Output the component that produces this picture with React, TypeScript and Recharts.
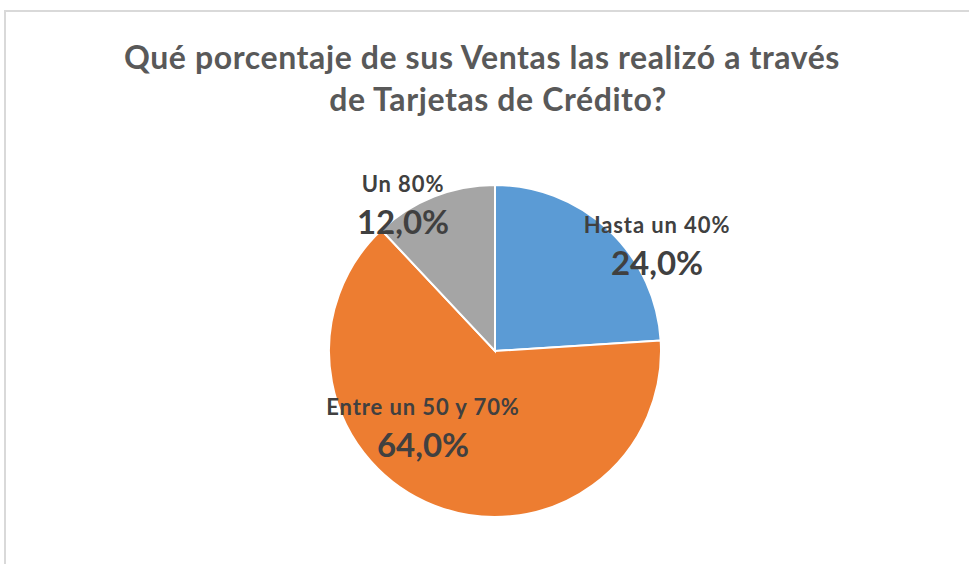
import React from 'react'
import { PieChart, Pie, Cell } from 'recharts'

const CATEGORIES = ['Hasta un 40%', 'Entre un 50 y 70%', 'Un 80%']
const VALUES = [24, 64, 12]
const COLORS = ['#5b9bd5', '#ed7d31', '#a5a5a5']

const TITLE_LINES = ['Qué porcentaje de sus Ventas las realizó a través', 'de Tarjetas de Crédito?']

const DATA = CATEGORIES.map((name, i) => ({ name, value: VALUES[i] }))

// label anchors relative to the pie centre (Excel "best fit" placement)
const LABEL_OFFSETS = [
    { dx: 162, dy: -118 },
    { dx: -72, dy: 64 },
    { dx: -92, dy: -159 },
]

const FONT = 'Lato, "Open Sans", sans-serif'

const renderLabel = (props: any) => {
    const { cx, cy, index, name, value } = props
    const off = LABEL_OFFSETS[index]
    const x = cx + off.dx
    const y = cy + off.dy
    return (
        <g>
            <text x={x} y={y} textAnchor="middle" fill="#404040" fontFamily={FONT} fontWeight={700} fontSize={22} letterSpacing={0.9}>
                {name}
            </text>
            <text x={x} y={y + 42} textAnchor="middle" fill="#404040" fontFamily={FONT} fontWeight={700} fontSize={33}>
                {value.toFixed(1).replace('.', ',')}%
            </text>
        </g>
    )
}

export default function App() {
    return (
        <div style={{ position: 'fixed', left: 0, top: 0, width: 969, height: 564, background: '#fff', overflow: 'hidden' }}>
            <div
                style={{
                    position: 'absolute',
                    left: 4,
                    top: 10,
                    width: 1000,
                    height: 600,
                    border: '2px solid #d9d9d9',
                }}
            />
            <svg width={969} height={564} style={{ position: 'absolute', left: 0, top: 0 }}>
                <text x={482} y={69} textAnchor="middle" fill="#595959" fontFamily={FONT} fontWeight={700} fontSize={32} letterSpacing={0.6}>
                    {TITLE_LINES[0]}
                </text>
                <text x={498} y={111} textAnchor="middle" fill="#595959" fontFamily={FONT} fontWeight={700} fontSize={32} letterSpacing={0.6}>
                    {TITLE_LINES[1]}
                </text>
            </svg>
            <div style={{ position: 'absolute', left: 0, top: 0 }}>
                <PieChart width={969} height={564} margin={{ top: 0, right: 0, bottom: 0, left: 0 }}>
                    <Pie
                        data={DATA}
                        dataKey="value"
                        nameKey="name"
                        cx={495}
                        cy={351}
                        outerRadius={166}
                        startAngle={90}
                        endAngle={-270}
                        stroke="#ffffff"
                        strokeWidth={2}
                        label={renderLabel}
                        labelLine={false}
                        isAnimationActive={false}
                    >
                        {DATA.map((entry, index) => (
                            <Cell key={`cell-${index}`} fill={COLORS[index]} />
                        ))}
                    </Pie>
                </PieChart>
            </div>
        </div>
    )
}
